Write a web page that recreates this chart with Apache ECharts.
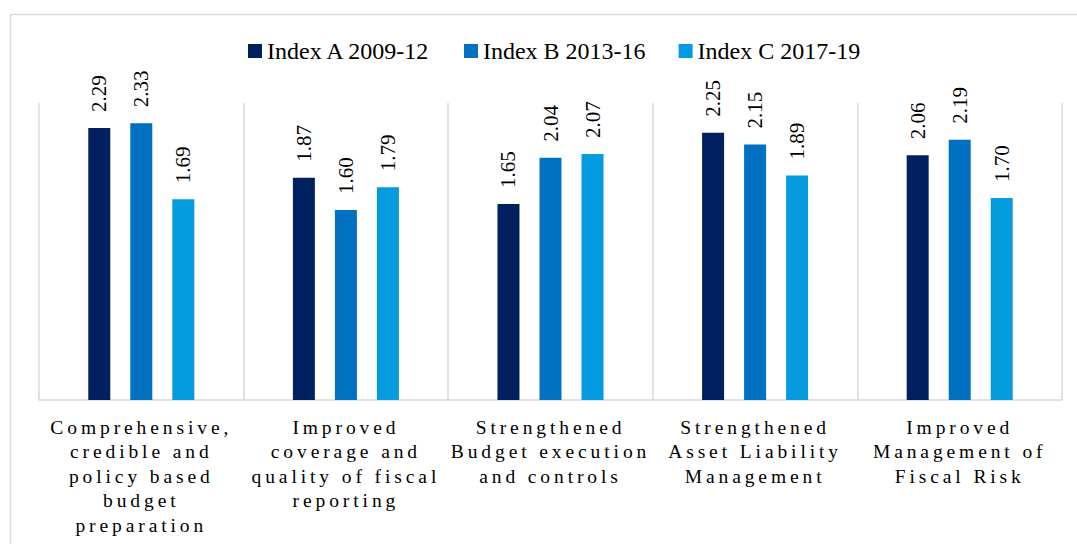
<!DOCTYPE html>
<html>
<head>
<meta charset="utf-8">
<script src="https://cdn.jsdelivr.net/npm/echarts@6/dist/echarts.min.js"></script>
<style>
  html, body { margin: 0; padding: 0; background: #fff; }
  #chart { width: 1077px; height: 544px; }
  #chart text { font-family: "Liberation Serif", serif !important; }
  #chart text[style*="19.5px"] { letter-spacing: 3.9px; }
</style>
</head>
<body>
<div id="chart"></div>
<script>
const categories = [
  "Comprehensive,\ncredible and\npolicy based\nbudget\npreparation",
  "Improved\ncoverage and\nquality of fiscal\nreporting",
  "Strengthened\nBudget execution\nand controls",
  "Strengthened\nAsset Liability\nManagement",
  "Improved\nManagement of\nFiscal Risk"
];
const seriesNames = ["Index A 2009-12", "Index B 2013-16", "Index C 2017-19"];
const indexA = [2.29, 1.87, 1.65, 2.25, 2.06];
const indexB = [2.33, 1.60, 2.04, 2.15, 2.19];
const indexC = [1.69, 1.79, 2.07, 1.89, 1.70];
const colors = ["#002060", "#0070C0", "#049BDF"];

const chart = echarts.init(document.getElementById('chart'), null, { renderer: 'svg' });
const font = 'Liberation Serif';

function mk(name, data, color) {
  return {
    name: name,
    type: 'bar',
    data: data,
    barWidth: 22,
    barGap: '91%',
    itemStyle: { color: color },
    label: {
      show: true,
      position: 'top',
      rotate: 90,
      align: 'left',
      verticalAlign: 'middle',
      distance: 16,
      fontFamily: font,
      fontSize: 21,
      color: '#000',
      formatter: p => p.value.toFixed(2)
    }
  };
}

chart.setOption({
  animation: false,
  textStyle: { fontFamily: font },
  graphic: [{
    type: 'rect',
    shape: { x: 10.5, y: 14.5, width: 1100, height: 600 },
    style: { fill: 'none', stroke: '#d9d9d9', lineWidth: 1.5 },
    silent: true
  }],
  legend: {
    data: seriesNames,
    left: 243,
    top: 34,
    itemWidth: 14,
    itemHeight: 14,
    itemGap: 33,
    icon: 'rect',
    textStyle: { fontFamily: font, fontSize: 24, color: '#000' }
  },
  grid: { left: 39, right: 15, top: 103, bottom: 144, containLabel: false },
  xAxis: {
    type: 'category',
    data: categories,
    axisLine: { lineStyle: { color: '#d9d9d9', width: 1.5 } },
    axisTick: { show: false },
    splitLine: { show: true, lineStyle: { color: '#d9d9d9', width: 1.5 } },
    axisLabel: {
      interval: 0,
      margin: 15,
      fontFamily: font,
      fontSize: 19.5,
      lineHeight: 24.5,
      color: '#000',
      align: 'center'
    }
  },
  yAxis: {
    type: 'value',
    min: 0,
    max: 2.5,
    show: false,
    splitLine: { show: false }
  },
  series: [
    mk(seriesNames[0], indexA, colors[0]),
    mk(seriesNames[1], indexB, colors[1]),
    mk(seriesNames[2], indexC, colors[2])
  ]
});
</script>
</body>
</html>
